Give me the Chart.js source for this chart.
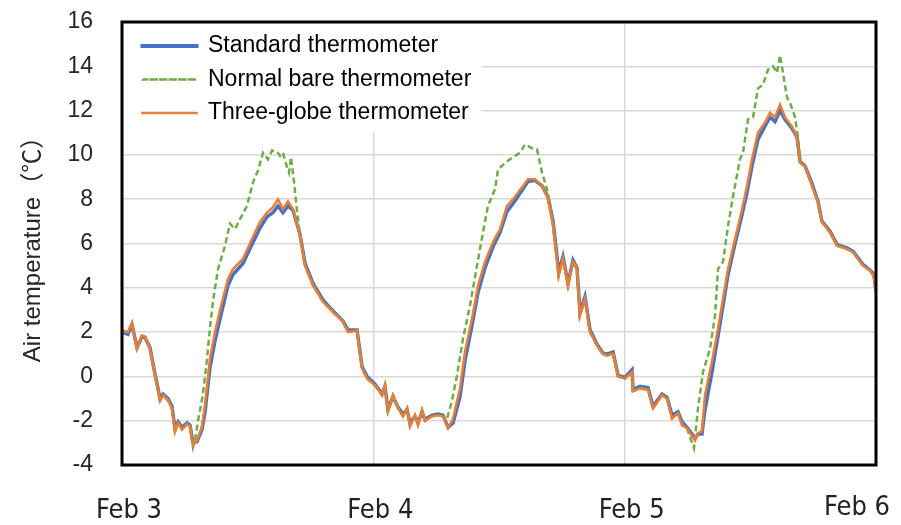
<!DOCTYPE html>
<html>
<head>
<meta charset="utf-8">
<script src="https://cdn.jsdelivr.net/npm/chart.js@4.4.1/dist/chart.umd.min.js"></script>
<style>
  html, body { margin: 0; padding: 0; background: #fff; }
  #wrap { width: 901px; height: 525px; }
</style>
</head>
<body>
<div id="wrap"><canvas id="chart" width="901" height="525"></canvas></div>
<script>
// hours since Feb 3 00:00
const hours = [0,0.57,0.95,1.43,1.91,2.20,2.67,3.15,3.44,3.63,3.92,4.39,4.77,5.06,5.35,5.73,6.21,6.49,6.78,7.16,7.64,7.93,8.40,8.88,9.36,10.12,10.60,11.55,12.41,13.18,13.85,14.42,14.90,15.37,15.85,16.33,17.00,17.48,18.24,19.19,20.15,21.10,21.58,22.44,22.92,23.40,24.16,24.83,25.11,25.40,25.88,26.36,26.83,27.22,27.50,27.98,28.27,28.65,28.93,29.60,30.18,30.65,31.13,31.61,32.28,32.75,33.42,34.00,34.66,35.43,36.10,36.76,37.34,38.20,38.77,39.44,40.11,40.68,41.16,41.45,41.70,42.11,42.59,43.07,43.45,43.73,44.21,44.69,45.36,45.93,46.31,46.89,47.37,48.03,48.70,48.80,49.47,50.23,50.71,51.57,52.04,52.52,53.09,53.48,53.95,54.43,54.72,55.00,55.38,55.67,56.34,56.91,57.39,57.87,58.54,59.21,59.68,60.16,60.73,61.40,61.88,62.36,62.83,63.31,63.98,64.46,64.75,65.22,65.89,66.46,66.84,67.61,68.28,69.23,69.81,70.76,71.43,71.80,72.00];

const standard = [2.0,1.9,2.35,1.3,1.8,1.75,1.3,0.1,-0.55,-1.0,-0.8,-1.0,-1.35,-2.35,-2.05,-2.3,-2.1,-2.2,-3.0,-2.95,-2.4,-1.6,0.4,1.6,2.6,4.1,4.6,5.1,5.95,6.7,7.2,7.4,7.7,7.4,7.7,7.5,6.4,5.1,4.2,3.45,2.95,2.5,2.1,2.1,0.45,0.0,-0.35,-0.8,-0.45,-1.5,-0.9,-1.4,-1.7,-1.5,-2.1,-1.8,-2.1,-1.6,-1.95,-1.75,-1.7,-1.75,-2.3,-2.1,-0.9,0.7,2.3,3.8,4.9,5.85,6.5,7.45,7.8,8.4,8.8,8.85,8.6,8.1,7.0,5.8,4.7,5.4,4.2,5.25,4.9,2.9,3.6,2.1,1.45,1.05,1.0,1.1,0.05,-0.05,0.3,-0.6,-0.45,-0.5,-1.35,-0.8,-0.95,-1.75,-1.6,-2.05,-2.3,-2.6,-2.8,-2.6,-2.6,-1.5,0.2,1.8,3.2,4.6,6.0,7.3,8.3,9.5,10.7,11.3,11.7,11.5,12.0,11.6,11.2,10.8,9.7,9.5,8.7,7.9,7.0,6.55,5.95,5.8,5.65,5.05,4.8,4.6,3.9];

const threeGlobe = [2.08,2.0,2.4,1.26,1.84,1.8,1.26,0.05,-0.6,-1.1,-0.85,-1.08,-1.44,-2.5,-2.1,-2.4,-2.15,-2.25,-3.1,-2.9,-2.25,-1.3,0.8,2.0,3.0,4.4,4.85,5.3,6.2,6.97,7.4,7.64,8.0,7.55,7.9,7.55,6.34,5.0,4.1,3.37,2.9,2.47,2.0,2.07,0.36,-0.1,-0.4,-0.85,-0.4,-1.57,-0.85,-1.44,-1.8,-1.44,-2.25,-1.75,-2.2,-1.53,-2.0,-1.8,-1.75,-1.8,-2.34,-1.9,-0.54,1.1,2.6,4.1,5.17,6.07,6.65,7.7,8.0,8.54,8.9,8.9,8.6,8.0,6.8,5.6,4.54,5.3,4.1,5.17,4.85,2.74,3.5,2.0,1.4,1.0,0.94,1.03,0.0,-0.1,0.2,-0.67,-0.54,-0.6,-1.44,-0.85,-1.0,-1.9,-1.66,-2.2,-2.34,-2.7,-2.9,-2.56,-2.47,-0.85,0.67,2.15,3.5,4.85,6.2,7.55,8.6,9.8,11.0,11.46,11.9,11.7,12.27,11.7,11.28,10.8,9.66,9.48,8.6,7.85,6.97,6.5,5.9,5.75,5.6,5.0,4.77,4.5,3.7];

// the bare thermometer is sampled on its own hours
const bareHours = [0,0.57,0.95,1.43,1.91,2.20,2.67,3.15,3.44,3.63,3.92,4.39,4.77,5.06,5.35,5.73,6.21,6.49,
  6.78,6.97,7.26,7.73,8.12,8.40,8.69,9.17,9.84,10.31,10.79,11.27,11.94,12.51,12.99,13.46,13.94,14.32,14.80,15.09,15.37,15.66,15.95,16.14,16.42,16.71,17.00,
  17.48,18.24,19.19,20.15,21.10,21.58,22.44,22.92,23.40,24.16,24.83,25.11,25.40,25.88,26.36,26.83,27.22,27.50,27.98,28.27,28.65,28.93,29.60,30.18,30.65,
  31.04,31.51,31.99,32.56,33.23,33.90,34.47,34.95,35.62,35.91,36.76,37.34,38.01,38.48,39.15,39.63,40.11,40.58,41.06,
  41.45,41.70,42.11,42.59,43.07,43.45,43.73,44.21,44.69,45.36,45.93,46.31,46.89,47.37,48.03,48.70,48.80,49.47,50.23,50.71,51.57,52.04,52.52,53.09,53.48,53.95,
  54.43,54.62,55.00,55.48,56.15,56.63,56.91,57.39,57.87,58.35,59.01,59.30,59.78,60.26,60.73,61.21,61.69,62.17,62.55,62.83,63.12,63.50,63.79,64.27,64.55,64.75,
  65.22,65.89,66.46,66.84,67.61,68.28,69.23,69.81,70.76,71.43,71.80,72.00];

const normalBare = [2.08,2.0,2.4,1.26,1.84,1.8,1.26,0.05,-0.6,-1.1,-0.85,-1.08,-1.44,-2.5,-2.1,-2.4,-2.15,-2.25,
  -3.2,-2.9,-2.0,-0.8,0.8,2.2,3.4,4.85,5.9,6.9,6.65,7.1,7.7,8.76,9.3,10.1,9.8,10.2,10.15,9.95,10.1,9.6,9.2,9.9,8.8,7.5,6.4,
  5.0,4.1,3.37,2.9,2.47,2.0,2.07,0.36,-0.1,-0.4,-0.85,-0.4,-1.57,-0.85,-1.44,-1.8,-1.44,-2.25,-1.75,-2.2,-1.53,-2.0,-1.8,-1.75,-1.8,
  -1.9,-1.1,0.05,1.7,3.2,5.0,6.5,7.7,8.45,9.35,9.7,9.9,10.1,10.47,10.3,10.25,9.2,8.45,7.3,
  5.6,4.54,5.3,4.1,5.17,4.85,2.74,3.5,2.0,1.4,1.0,0.94,1.03,0.0,-0.1,0.2,-0.67,-0.54,-0.6,-1.44,-0.85,-1.0,-1.9,-1.66,-2.2,-2.34,
  -3.0,-3.24,-1.44,0.2,1.26,2.74,4.85,5.17,6.8,8.13,9.8,10.1,11.6,11.7,13.0,13.17,13.85,14.0,13.7,14.5,13.7,12.6,12.36,11.7,10.8,9.66,
  9.48,8.6,7.85,6.97,6.5,5.9,5.75,5.6,5.0,4.77,4.5,3.7];

const dayLabels = ['Feb 3', 'Feb 4', 'Feb 5', 'Feb 6'];
const seriesNames = ['Standard thermometer', 'Normal bare thermometer', 'Three-globe thermometer'];

const toPoints = (xs, ys) => xs.map((x, i) => ({ x: x, y: ys[i] }));

// legend background + plot frame + day labels
const framePlugin = {
  id: 'frame',
  afterLayout(chart) {
    const a = chart.chartArea;
    chart.legend.left = a.left + 10;
    chart.legend.top = a.top + 2;
  },
  beforeDatasetsDraw(chart) {
    const ctx = chart.ctx, a = chart.chartArea, lg = chart.legend;
    ctx.save();
    ctx.fillStyle = '#fff';
    ctx.fillRect(a.left, a.top, lg.left + lg.width - a.left, 110);
    ctx.restore();
    lg.draw();
  },
  afterDraw(chart) {
    const ctx = chart.ctx, a = chart.chartArea, x = chart.scales.x;
    ctx.save();
    ctx.strokeStyle = '#000';
    ctx.lineWidth = 3;
    ctx.strokeRect(a.left, a.top, a.right - a.left, a.bottom - a.top);
    ctx.font = "27px 'Liberation Sans Narrow', 'DejaVu Sans Condensed', 'Liberation Sans', sans-serif";
    ctx.fillStyle = '#222';
    ctx.textBaseline = 'middle';
    ctx.textAlign = 'center';
    x.ticks.forEach((t, i) => {
      const w = ctx.measureText(dayLabels[i]).width;
      const px = Math.min(x.getPixelForValue(t.value) + 7, chart.width - 11 - w / 2);
      ctx.fillText(dayLabels[i], px, i === dayLabels.length - 1 ? 508 : 511);
    });
    ctx.restore();
  }
};

new Chart(document.getElementById('chart'), {
  type: 'line',
  data: {
    datasets: [
      {
        label: seriesNames[0],
        data: toPoints(hours, standard),
        borderColor: '#4472c4',
        backgroundColor: '#4472c4',
        borderWidth: 3.5,
        order: 2
      },
      {
        label: seriesNames[1],
        data: toPoints(bareHours, normalBare),
        borderColor: '#70ad47',
        backgroundColor: '#70ad47',
        borderWidth: 2.5,
        borderDash: [6, 3.5],
        order: 1
      },
      {
        label: seriesNames[2],
        data: toPoints(hours, threeGlobe),
        borderColor: '#ed7d31',
        backgroundColor: '#ed7d31',
        borderWidth: 2.5,
        order: 0
      }
    ]
  },
  options: {
    responsive: false,
    animation: false,
    events: [],
    elements: { point: { radius: 0 }, line: { tension: 0 } },
    layout: { padding: { top: 22, right: 25, bottom: 0, left: 0 } },
    plugins: {
      tooltip: { enabled: false },
      legend: {
        position: 'chartArea',
        align: 'start',
        labels: {
          boxWidth: 54,
          boxHeight: 0.01,
          padding: 10.5,
          color: '#222',
          font: { family: "'Liberation Sans', Arial, sans-serif", size: 23 },
          sort: (a, b) => a.datasetIndex - b.datasetIndex,
          generateLabels: (chart) => chart.data.datasets.map((ds, i) => ({
            text: ds.label,
            datasetIndex: i,
            fillStyle: ds.borderColor,
            strokeStyle: ds.borderColor,
            lineWidth: i === 0 ? 4 : 2.5,
            lineDash: ds.borderDash || [],
            hidden: false
          }))
        }
      }
    },
    scales: {
      x: {
        type: 'linear',
        min: 0,
        max: 72,
        afterFit: (s) => { s.height = 60; },
        ticks: { stepSize: 24, display: false },
        grid: { color: '#d9d9d9', lineWidth: 1.5, drawTicks: false },
        border: { display: false }
      },
      y: {
        min: -4,
        max: 16,
        afterFit: (s) => { s.width = 122; s.paddingTop = 0; s.paddingBottom = 0; },
        ticks: {
          stepSize: 2,
          padding: 29,
          autoSkip: false,
          color: '#262626',
          font: { family: "'Liberation Sans', Arial, sans-serif", size: 23 }
        },
        grid: { color: '#d9d9d9', lineWidth: 1.5, drawTicks: false },
        border: { display: false },
        title: {
          display: true,
          text: 'Air temperature（℃）',
          color: '#262626',
          padding: { top: 19, bottom: 0 },
          font: { family: "'Liberation Sans', 'Noto Sans CJK JP', sans-serif", size: 24 }
        }
      }
    }
  },
  plugins: [framePlugin]
});
</script>
</body>
</html>
